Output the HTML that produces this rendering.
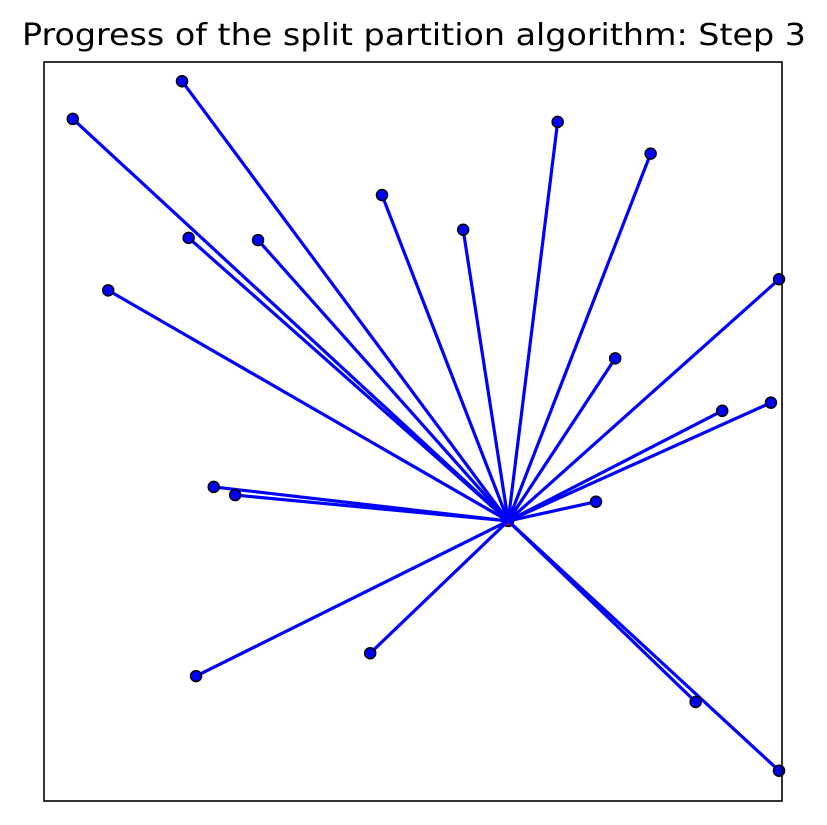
<!DOCTYPE html>
<html><head><meta charset="utf-8"><style>
body{margin:0;background:#fff;}
svg{display:block;font-family:"DejaVu Sans","Liberation Sans",sans-serif;}
</style></head><body>
<svg id="chart" width="827" height="825">
<rect x="0" y="0" width="827" height="825" fill="#fff"/>
<text x="414" y="45" text-anchor="middle" font-size="30" textLength="784" lengthAdjust="spacingAndGlyphs" fill="#000">Progress of the split partition algorithm: Step 3</text>
<g id="lines"></g><g id="center"></g><g id="pts"></g>
<rect x="44" y="62" width="738" height="739" fill="none" stroke="#000" stroke-width="1.6"/>
</svg>
<script>
const xs=[18.7,3.9,69.6,82.2,45.8,56.8,19.6,29.0,8.7,99.6,77.4,91.9,98.5,23.0,25.9,74.8,44.2,20.6,88.3,99.6];
const ys=[97.4,92.3,91.9,87.6,82.0,77.3,76.2,75.9,69.1,70.6,59.9,52.8,53.9,42.5,41.4,40.5,20.0,16.9,13.4,4.1];
const centerX=[62.9];
const centerY=[37.9];
function sx(v){return 44+v*7.38;}
function sy(v){return 801-v*7.39;}
const NS="http://www.w3.org/2000/svg";
const L=document.getElementById('lines'),P=document.getElementById('pts'),C=document.getElementById('center');
const cx=sx(centerX[0]),cy=sy(centerY[0]);
const c=document.createElementNS(NS,'circle');
c.setAttribute('cx',cx);c.setAttribute('cy',cy);c.setAttribute('r',5.5);
c.setAttribute('fill','#e00');c.setAttribute('stroke','#000');c.setAttribute('stroke-width',1.5);


C.appendChild(c);
for(let i=0;i<xs.length;i++){
 const l=document.createElementNS(NS,'line');
 l.setAttribute('x1',cx);l.setAttribute('y1',cy);l.setAttribute('x2',sx(xs[i]));l.setAttribute('y2',sy(ys[i]));
 l.setAttribute('stroke','#0000ff');l.setAttribute('stroke-width',3.2);
 
 
 L.appendChild(l);
 const p=document.createElementNS(NS,'circle');
 p.setAttribute('cx',sx(xs[i]));p.setAttribute('cy',sy(ys[i]));p.setAttribute('r',5.5);
 p.setAttribute('fill','#0000ff');p.setAttribute('stroke','#000');p.setAttribute('stroke-width',1.5);
 
 
 P.appendChild(p);
}
document.getElementById('chart').insertBefore(C,L);
</script>
</body></html>
